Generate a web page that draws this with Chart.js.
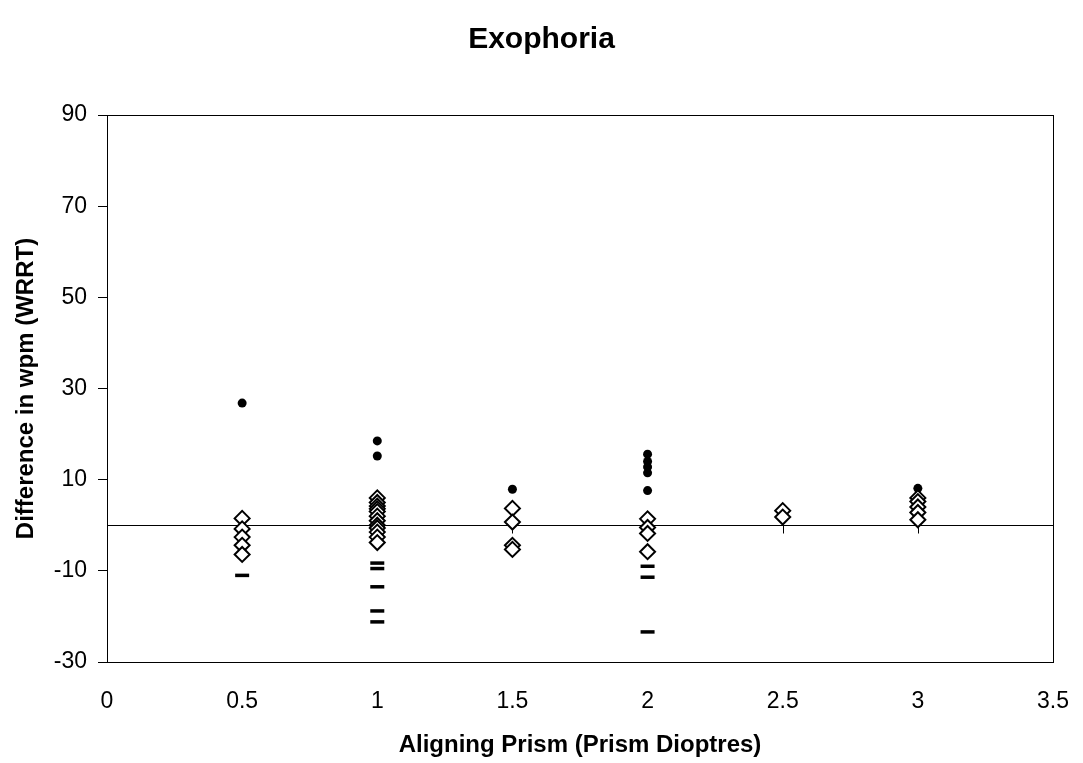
<!DOCTYPE html>
<html>
<head>
<meta charset="utf-8">
<script src="https://cdn.jsdelivr.net/npm/chart.js@4"></script>
<style>
  html, body { margin: 0; padding: 0; background: #fff; }
  #wrap { width: 1083px; height: 763px; }
</style>
</head>
<body>
<div id="wrap"><canvas id="chart"></canvas></div>
<script>
// prism values (x) and wpm differences (y)
const dotX = [0.5, 1, 1, 1.5, 2, 2, 2, 2, 2, 3];
const dotY = [26.8, 18.5, 15.2, 7.9, 15.6, 14, 12.8, 11.5, 7.6, 8.1];

const diamondX = [0.5, 0.5, 0.5, 0.5, 0.5,
  1, 1, 1, 1, 1, 1, 1, 1, 1, 1, 1, 1,
  1.5, 1.5, 1.5, 1.5,
  2, 2, 2, 2,
  2.5, 2.5,
  3, 3, 3, 3, 3];
const diamondY = [1.5, -0.8, -2.6, -4.4, -6.4,
  6, 5, 4.2, 3.6, 3, 2, 1, 0, -0.6, -1.5, -2.6, -3.8,
  3.7, 0.7, -4.4, -5.3,
  1.4, -0.5, -1.8, -5.8,
  3.2, 1.8,
  6, 5.2, 4, 2.8, 1.2];

const dashX = [0.5, 1, 1, 1, 1, 1, 2, 2, 2];
const dashY = [-11, -8.3, -9.5, -13.5, -18.8, -21.2, -9, -11.4, -23.4];

const xTicks = [0, 0.5, 1, 1.5, 2, 2.5, 3, 3.5];
const yTicks = [-30, -10, 10, 30, 50, 70, 90];

function pts(xs, ys) {
  return xs.map((x, i) => ({ x: x, y: ys[i] }));
}

// box round the plot area, and the zero line with its hanging ticks
const framePlugin = {
  id: "frame",
  beforeDatasetsDraw(chart) {
    const ctx = chart.ctx;
    const a = chart.chartArea;
    const xs = chart.scales.x;
    const ys = chart.scales.y;
    ctx.save();
    ctx.strokeStyle = "#000";
    ctx.lineWidth = 1;
    ctx.strokeRect(a.left + 0.5, a.top + 0.5, a.right - a.left, a.bottom - a.top);
    const y0 = Math.round(ys.getPixelForValue(0)) + 0.5;
    ctx.beginPath();
    ctx.moveTo(a.left, y0);
    ctx.lineTo(a.right, y0);
    xTicks.forEach(v => {
      const px = Math.round(xs.getPixelForValue(v)) + 0.5;
      ctx.moveTo(px, y0);
      ctx.lineTo(px, y0 + 8);
    });
    ctx.stroke();
    ctx.restore();
  }
};

const font = "'Liberation Sans', Arial, sans-serif";

new Chart(document.getElementById("chart"), {
  type: "scatter",
  data: {
    datasets: [
      {
        label: "decrease",
        data: pts(dashX, dashY),
        pointStyle: "line",
        pointRadius: 7,
        pointHoverRadius: 7,
        borderColor: "#000",
        pointBorderWidth: 3.5
      },
      {
        label: "small change",
        data: pts(diamondX, diamondY),
        pointStyle: "rectRot",
        pointRadius: 7.5,
        pointHoverRadius: 7.5,
        backgroundColor: "#fff",
        borderColor: "#000",
        pointBorderWidth: 2
      },
      {
        label: "increase",
        data: pts(dotX, dotY),
        pointStyle: "circle",
        pointRadius: 4.5,
        pointHoverRadius: 4.5,
        backgroundColor: "#000",
        borderColor: "#000",
        pointBorderWidth: 0
      }
    ]
  },
  options: {
    responsive: true,
    maintainAspectRatio: false,
    animation: false,
    layout: { padding: { left: 0, right: 0, top: 0, bottom: 3 } },
    plugins: {
      legend: { display: false },
      tooltip: { enabled: false },
      title: {
        display: true,
        text: "Exophoria",
        color: "#000",
        font: { family: font, size: 30, weight: "bold" },
        padding: { top: 22, bottom: 57 }
      }
    },
    scales: {
      x: {
        type: "linear",
        min: 0,
        max: 3.5,
        afterBuildTicks: s => { s.ticks = xTicks.map(v => ({ value: v })); },
        afterFit: s => { s.height = 98; s.paddingLeft = 0; s.paddingRight = 30; },
        grid: { display: false, drawTicks: false },
        border: { display: false },
        ticks: {
          color: "#000",
          padding: 26,
          maxRotation: 0,
          callback: v => String(v),
          font: { family: font, size: 23 }
        },
        title: {
          display: true,
          text: "Aligning Prism (Prism Dioptres)",
          color: "#000",
          font: { family: font, size: 24, weight: "bold" },
          padding: { top: 0, bottom: 0 }
        }
      },
      y: {
        min: -30,
        max: 90,
        afterBuildTicks: s => { s.ticks = yTicks.map(v => ({ value: v })); },
        afterFit: s => { s.width = 107; },
        grid: { drawOnChartArea: false, tickLength: 9, color: "#000" },
        border: { display: false },
        ticks: {
          color: "#000",
          padding: 11,
          callback: v => String(v),
          font: { family: font, size: 23 }
        },
        title: {
          display: true,
          text: "Difference in wpm (WRRT)",
          color: "#000",
          font: { family: font, size: 24, weight: "bold" },
          padding: { top: 12, bottom: 0 }
        }
      }
    }
  },
  plugins: [framePlugin]
});
</script>
</body>
</html>
